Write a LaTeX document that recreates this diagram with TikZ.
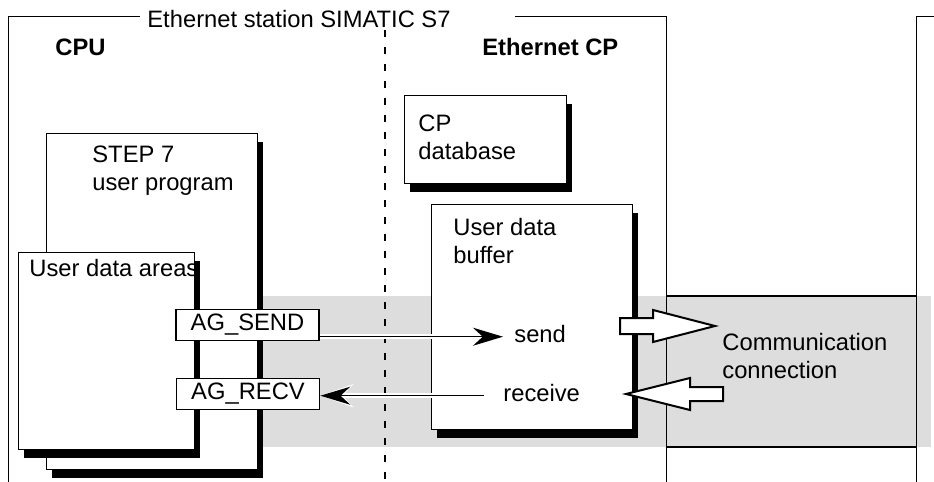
\documentclass[tikz,border=0pt]{standalone}
\usepackage{fontspec}
\setmainfont{Liberation Sans}
\usetikzlibrary{arrows.meta,shadows}
\definecolor{bandgray}{HTML}{DDDDDD}
\tikzset{
  frame/.style={line width=0.5pt},
  shbox/.style={draw, fill=white, line width=0.5pt,
    drop shadow={shadow xshift=3pt, shadow yshift=-4.5pt, fill=black, opacity=1}},
  txt/.style={anchor=base west, inner sep=0pt},
  mtxt/.style={anchor=north west, inner sep=0pt, align=left},
  agbox/.style={draw, fill=white, line width=0.75pt, minimum width=71.5pt, minimum height=15.5pt, inner sep=0pt},
  flow/.style={line width=0.75pt, -{Stealth[length=15pt,width=9pt]},
    preaction={draw=white, line width=2.4pt, -{Stealth[length=16.5pt,width=11.5pt]}}},
  bigarrow/.style={draw, fill=white, line width=1pt, line join=miter}
}
\begin{document}
\begin{tikzpicture}[x=0.5pt,y=-0.5pt,font=\fontsize{11.875}{14}\selectfont]
\useasboundingbox (0,0) rectangle (934,482);
\fill[bandgray] (263,296) rectangle (931,447);
\draw[line width=0.9pt] (666,296) -- (916,296) (666,447) -- (916,447);
\node[txt] (title) at (147,27) {Ethernet station SIMATIC S7};
\draw[frame] (140,16) -- (8,16) -- (8,482);
\draw[frame] (515,16) -- (666,16) -- (666,482);
\draw[frame] (934,16) -- (916,16) -- (916,482);
\draw[line width=1pt, dash pattern=on 3.5pt off 5pt] (385,30) -- (385,482);
\node[txt] (cpu) at (55,55) {\bfseries CPU};
\node[txt] (cp) at (482,55) {\bfseries Ethernet CP};

\draw[shbox] (46,133) rectangle (257,469);
\node[mtxt] (step) at (92,146) {STEP 7\\user program};
\draw[shbox] (18,252) rectangle (194,449);
\node[txt] (areas) at (29,276) {User data areas};
\draw[shbox] (404,95) rectangle (566,183);
\node[mtxt] (cpdb) at (418,115) {CP\\database};
\draw[shbox] (431,204) rectangle (632,429);
\node[mtxt] (buffer) at (453,218) {User data\\buffer};
\node[mtxt] (conn) at (722,333) {Communication\\connection};

\node[agbox] (agsend) at (247.5,325) {AG\_SEND};
\node[agbox] (agrecv) at (248,394) {AG\_RECV};
\node[txt] (send) at (514,342) {send};
\node[txt] (recv) at (503,401) {receive};
\draw[flow, shorten >=5.5pt] (agsend.east |- send.mid west) -- (send.mid west);
\draw[flow, shorten <=9.5pt] (recv.mid west) -- (recv.mid west -| agrecv.east);

\draw[bigarrow] (620,318) -- (653,318) -- (653,310) -- (715,326) -- (653,342) -- (653,334) -- (620,334) -- cycle;
\draw[bigarrow] (723,387) -- (690,387) -- (690,378) -- (626,394) -- (690,410) -- (690,401) -- (723,401) -- cycle;
\end{tikzpicture}
\end{document}
